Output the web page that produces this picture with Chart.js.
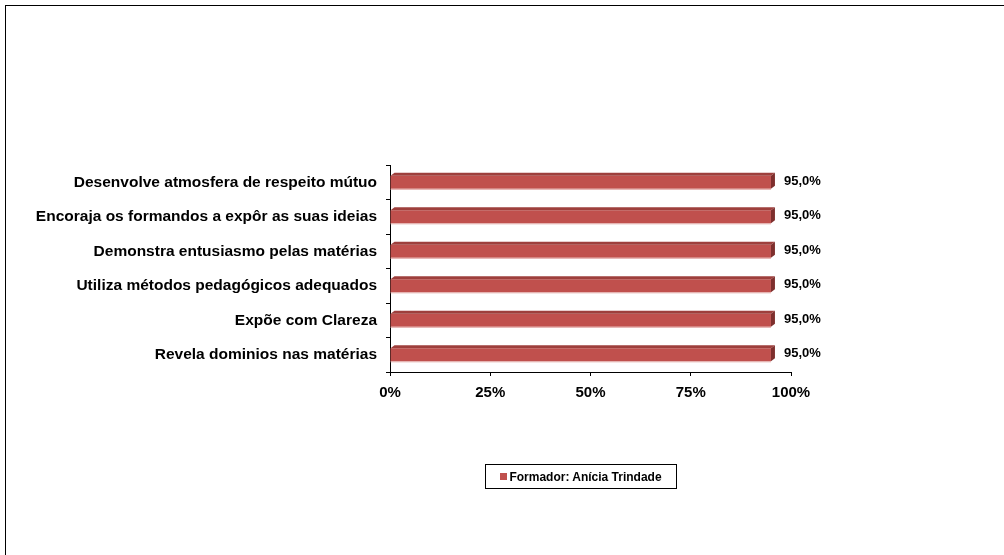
<!DOCTYPE html>
<html>
<head>
<meta charset="utf-8">
<script src="https://cdn.jsdelivr.net/npm/chart.js@4/dist/chart.umd.min.js"></script>
<style>
  html, body { margin: 0; padding: 0; background: #ffffff; }
  #wrap { position: relative; width: 1004px; height: 555px; overflow: hidden; }
  #frame { position: absolute; left: 5px; top: 5px; right: -5px; bottom: -5px; border-left: 1px solid #000; border-top: 1px solid #000; }
  #legend {
    position: absolute; left: 485px; top: 464px; width: 190px; height: 23px;
    border: 1px solid #000; box-sizing: content-box;
    font: bold 12px "Liberation Sans", Arial, sans-serif; color: #000;
    display: flex; align-items: center; justify-content: center;
  }
  #legend span.box { display: inline-block; width: 7px; height: 7px; background: #C0504D; margin-right: 2px; }
</style>
</head>
<body>
<div id="wrap">
  <canvas id="barChart" width="1004" height="555"></canvas>
  <div id="frame"></div>
  <div id="legend"><span class="box"></span>Formador: Anícia Trindade</div>
</div>
<script>
// categories top to bottom
const categories = [
    'Desenvolve atmosfera de respeito mútuo',
    'Encoraja os formandos a expôr as suas ideias',
    'Demonstra entusiasmo pelas matérias',
    'Utiliza métodos pedagógicos adequados',
    'Expõe com Clareza',
    'Revela dominios nas matérias',
];
const seriesName = 'Formador: Anícia Trindade';
const seriesValues = [95.0, 95.0, 95.0, 95.0, 95.0, 95.0];
const xTicks = [0, 25, 50, 75, 100];

const FONT = '"Liberation Sans", Arial, sans-serif';

// fake 3D faces (top + right side) and value labels
const bar3d = {
    id: 'bar3d',
    afterDatasetsDraw(chart) {
        const ctx = chart.ctx;
        const meta = chart.getDatasetMeta(0);
        const dx = 4, dy = 3;
        meta.data.forEach((bar, i) => {
            const left = bar.base, right = bar.x;
            const top = bar.y - bar.height / 2, bottom = bar.y + bar.height / 2;
            ctx.save();
            // top face
            ctx.fillStyle = '#9E3F3C';
            ctx.beginPath();
            ctx.moveTo(left, top);
            ctx.lineTo(left + dx, top - dy);
            ctx.lineTo(right + dx, top - dy);
            ctx.lineTo(right, top);
            ctx.closePath();
            ctx.fill();
            // side face
            ctx.fillStyle = '#7E2F2D';
            ctx.beginPath();
            ctx.moveTo(right, top);
            ctx.lineTo(right + dx, top - dy);
            ctx.lineTo(right + dx, bottom - dy);
            ctx.lineTo(right, bottom);
            ctx.closePath();
            ctx.fill();
            // light bottom edge
            ctx.strokeStyle = '#E2A7A5';
            ctx.lineWidth = 1;
            ctx.beginPath();
            ctx.moveTo(left, bottom + 0.5);
            ctx.lineTo(right, bottom + 0.5);
            ctx.stroke();
            // value label
            ctx.fillStyle = '#000';
            ctx.font = 'bold 13px ' + FONT;
            ctx.textAlign = 'left';
            ctx.textBaseline = 'middle';
            ctx.fillText(seriesValues[i].toFixed(1).replace('.', ',') + '%', right + 13, bar.y - 1);
            ctx.restore();
        });
    }
};

const chartData = {
    labels: categories,
    datasets: [
        {
            label: seriesName,
            data: seriesValues,
            backgroundColor: '#C0504D',
            borderWidth: 0,
            categoryPercentage: 1,
            barPercentage: 0.38,
        },
    ],
};

const chartOptions = {
    indexAxis: 'y',
    responsive: false,
    animation: false,
    layout: {
        padding: { left: 10, right: 213, top: 165, bottom: 143 },
    },
    scales: {
        x: {
            min: 0,
            max: 100,
            afterBuildTicks: (scale) => {
                scale.ticks = xTicks.map(v => ({ value: v }));
            },
            afterFit: (scale) => { scale.height = 40; },
            ticks: {
                color: '#000',
                padding: 8,
                font: { family: FONT, size: 15, weight: 'bold' },
                callback: (v) => v + '%',
            },
            grid: {
                drawOnChartArea: false,
                color: '#000',
                tickLength: 4,
            },
            border: { color: '#000', width: 1 },
        },
        y: {
            afterFit: (scale) => { scale.width = 380; },
            ticks: {
                color: '#000',
                padding: 9,
                font: { family: FONT, size: 15.5, weight: 'bold' },
            },
            grid: {
                offset: true,
                drawOnChartArea: false,
                color: '#000',
                tickLength: 4,
            },
            border: { color: '#000', width: 1 },
        },
    },
    plugins: {
        legend: { display: false },
        tooltip: { enabled: false },
    },
};

const ctx = document.getElementById('barChart');
new Chart(ctx, {
    type: 'bar',
    data: chartData,
    options: chartOptions,
    plugins: [bar3d],
});
</script>
</body>
</html>
